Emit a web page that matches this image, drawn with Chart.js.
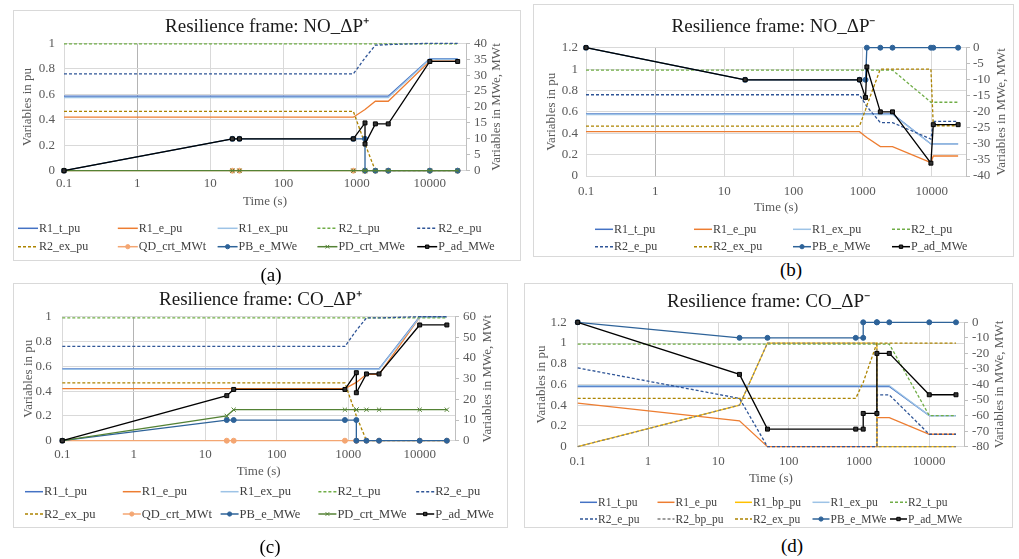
<!DOCTYPE html>
<html>
<head>
<meta charset="utf-8">
<script src="https://cdn.jsdelivr.net/npm/chart.js@4.4.1/dist/chart.umd.min.js"></script>
<style>
  html, body { margin: 0; padding: 0; background: #fff; }
  body { position: relative; width: 1019px; height: 559px; overflow: hidden; font-family: "Liberation Serif", "Times New Roman", serif; }
  .frame { position: absolute; border: 1px solid #d9d9d9; box-sizing: border-box; }
  .frame canvas { display: block; }
  .cap { position: absolute; font-size: 19px; color: #000; transform: translate(-50%, -50%); }
</style>
</head>
<body>
<div class="frame" style="left:13px;top:10px;width:508px;height:251px"><canvas id="chartA" width="506" height="249"></canvas></div>
<div class="frame" style="left:533px;top:4px;width:481px;height:253px"><canvas id="chartB" width="479" height="251"></canvas></div>
<div class="frame" style="left:13px;top:283px;width:495px;height:245px"><canvas id="chartC" width="493" height="243"></canvas></div>
<div class="frame" style="left:524px;top:283px;width:489px;height:245px"><canvas id="chartD" width="487" height="243"></canvas></div>
<div class="cap" style="left:271px;top:275px">(a)</div>
<div class="cap" style="left:791px;top:270px">(b)</div>
<div class="cap" style="left:270px;top:547px">(c)</div>
<div class="cap" style="left:792px;top:546px">(d)</div>
<script>
// x axis labels (log time axis)
const decadeTicks = [0.1, 1, 10, 100, 1000, 10000];

// (a) NO_dP+
const timeA = [0.1, 20, 25, 900, 1300, 1300, 1800, 2700, 10000, 24000];
const aR1t = [0.585, 0.585, 0.585, 0.585, 0.585, 0.585, 0.585, 0.585, 0.88, 0.88];
const aR1e = [0.42, 0.42, 0.42, 0.42, 0.48, 0.48, 0.545, 0.545, 0.86, 0.86];
const aR1ex = [0.573, 0.573, 0.573, 0.573, 0.573, 0.573, 0.573, 0.573, 0.875, 0.875];
const aR2t = [0.995, 0.995, 0.995, 0.995, 0.995, 0.995, 0.995, 0.995, 0.995, 0.995];
const aR2e = [0.76, 0.76, 0.76, 0.76, 0.885, 0.885, 0.985, 0.99, 1, 1];
const aR2ex = [0.466, 0.466, 0.466, 0.466, 0.21, 0.21, 0, 0, 0, 0];
const aQD = [0, 0, 0, 0, 0, 0, 0, 0, 0, 0];
const aPB = [0, 10, 10, 10, 10, 0, 0, 0, 0, 0];
const aPD = [0, 0, 0, 0, 0, 0, 0, 0, 0, 0];
const aPad = [0, 10, 10, 10, 15, 8.4, 14.7, 14.7, 34.3, 34.3];

// (b) NO_dP-
const timeB = [0.1, 20, 900, 1100, 1150, 1800, 2700, 9700, 10500, 24000];
const bR1t = [0.58, 0.58, 0.58, 0.58, 0.58, 0.58, 0.58, 0.3, 0.3, 0.3];
const bR1e = [0.415, 0.415, 0.415, 0.37, 0.36, 0.275, 0.275, 0.125, 0.187, 0.187];
const bR1ex = [0.575, 0.575, 0.575, 0.575, 0.575, 0.575, 0.575, 0.3, 0.3, 0.3];
const bR2t = [0.99, 0.99, 0.99, 0.99, 0.99, 0.99, 0.99, 0.69, 0.69, 0.69];
const bR2e = [0.76, 0.76, 0.76, 0.67, 0.65, 0.5, 0.5, 0.345, 0.51, 0.51];
const bR2ex = [0.466, 0.466, 0.466, 0.62, 0.66, 1, 1, 1, 0.47, 0.47];
const bPB = [0, -10, -10, -10, 0, 0, 0, 0, 0, 0];
const bPad = [0, -10, -10, -15.5, -6, -20, -20, -36, -24, -24];

// (c) CO_dP+
const timeC = [0.1, 20, 25, 900, 1300, 1300, 1800, 2700, 10000, 24000];
const cR1t = [0.58, 0.58, 0.58, 0.58, 0.58, 0.58, 0.58, 0.58, 1, 1];
const cR1e = [0.42, 0.42, 0.42, 0.42, 0.47, 0.47, 0.535, 0.535, 0.995, 0.995];
const cR1ex = [0.575, 0.575, 0.575, 0.575, 0.575, 0.575, 0.575, 0.575, 0.995, 0.995];
const cR2t = [0.99, 0.99, 0.99, 0.99, 0.99, 0.99, 0.99, 0.99, 0.99, 0.99];
const cR2e = [0.76, 0.76, 0.76, 0.76, 0.89, 0.89, 0.99, 0.99, 1, 1];
const cR2ex = [0.466, 0.466, 0.466, 0.466, 0.2, 0.2, 0, 0, 0, 0];
const cQD = [0, 0, 0, 0, 0, 0, 0, 0, 0, 0];
const cPB = [0, 10, 10, 10, 10, 0, 0, 0, 0, 0];
const cPD = [0, 12, 15, 15, 15, 15, 15, 15, 15, 15];
const cPad = [0, 21.8, 24.8, 24.8, 32.9, 23.2, 32.3, 32.3, 56, 56];

// (d) CO_dP-
const timeD = [0.1, 20, 50, 900, 1150, 1150, 1800, 1800, 2700, 10000, 24000];
const dR1t = [0.58, 0.58, 0.58, 0.58, 0.58, 0.58, 0.58, 0.58, 0.58, 0.3, 0.3];
const dR1e = [0.42, 0.25, 0, 0, 0, 0, 0, 0.28, 0.28, 0.12, 0.12];
const dR1bp = [0, 0.4, 1, 1, 1, 1, 1, 0, 0, 0, 0];
const dR1ex = [0.59, 0.59, 0.59, 0.59, 0.59, 0.59, 0.59, 0.59, 0.59, 0.3, 0.3];
const dR2t = [0.99, 0.99, 0.99, 0.99, 0.99, 0.99, 0.99, 0.99, 0.99, 0.3, 0.3];
const dR2e = [0.76, 0.466, 0, 0, 0, 0, 0, 0.5, 0.5, 0.12, 0.12];
const dR2bp = [0, 0.4, 1, 1, 1, 1, 1, 0, 0, 0, 0];
const dR2ex = [0.466, 0.466, 0.466, 0.466, 0.62, 0.62, 1, 1, 1, 1, 1];
const dPB = [0, -10, -10, -10, -10, 0, 0, 0, 0, 0, 0];
const dPad = [0, -33.5, -68.7, -68.7, -68.7, -58.6, -58.6, -20, -20, -46.6, -46.6];

// line look per series name
const seriesStyle = {
  R1_t_pu: { color: "#4472C4" },
  R1_e_pu: { color: "#ED7D31" },
  R1_bp_pu: { color: "#FFC000" },
  R1_ex_pu: { color: "#9DC3E6" },
  R2_t_pu: { color: "#70AD47", dash: [3, 2] },
  R2_e_pu: { color: "#2F5597", dash: [3, 2] },
  R2_bp_pu: { color: "#7F7F7F", dash: [3, 2] },
  R2_ex_pu: { color: "#AD8400", dash: [3, 2] },
  QD_crt_MWt: { color: "#F4A672", point: "circle", r: 2.5, axis: "y1" },
  PB_e_MWe: { color: "#2E6399", point: "circle", r: 2.5, axis: "y1" },
  PD_crt_MWe: { color: "#548235", point: "crossRot", r: 3, axis: "y1" },
  P_ad_MWe: { color: "#000000", point: "rect", r: 2.8, fill: "#333333", axis: "y1" },
};

const SERIF = '"Liberation Serif", "Times New Roman", serif';
Chart.defaults.font.family = SERIF;
Chart.defaults.color = "#595959";

function series(name, times, values) {
  const s = seriesStyle[name];
  return {
    label: name,
    data: times.map((t, i) => ({ x: t, y: values[i] })),
    yAxisID: s.axis || "y",
    showLine: true,
    borderColor: s.color,
    borderWidth: 1.3,
    borderDash: s.dash || [],
    pointStyle: s.point || "circle",
    pointRadius: s.r || 0,
    pointHoverRadius: s.r || 0,
    pointBackgroundColor: s.fill || s.color,
    pointBorderColor: s.color,
    pointBorderWidth: 1,
    tension: 0,
    clip: false,
  };
}

// right axis title (bottom-to-top) and the grid-aligned legend
function makeDecor(p) {
  return {
    id: "decor",
    afterDraw(chart) {
      const { ctx, chartArea } = chart;
      ctx.save();
      ctx.font = "13px " + SERIF;
      ctx.fillStyle = "#595959";
      ctx.textAlign = "center";
      ctx.textBaseline = "middle";
      ctx.translate(p.box.rTitleX, (chartArea.top + chartArea.bottom) / 2);
      ctx.rotate(-Math.PI / 2);
      ctx.fillText("Variables in MWe, MWt", 0, 0);
      ctx.restore();

      const lg = p.legend;
      ctx.save();
      ctx.font = lg.font + "px " + SERIF;
      ctx.textBaseline = "middle";
      ctx.textAlign = "left";
      chart.data.datasets.forEach((ds, i) => {
        const x = lg.x + (i % lg.cols) * lg.pitch;
        const y = lg.y + Math.floor(i / lg.cols) * lg.dy;
        ctx.strokeStyle = ds.borderColor;
        ctx.lineWidth = 1.5;
        ctx.setLineDash(ds.borderDash);
        ctx.beginPath();
        ctx.moveTo(x, y);
        ctx.lineTo(x + lg.len, y);
        ctx.stroke();
        ctx.setLineDash([]);
        if (ds.pointRadius > 0) {
          ctx.fillStyle = ds.pointBackgroundColor;
          ctx.strokeStyle = ds.pointBorderColor;
          ctx.lineWidth = 1;
          Chart.helpers.drawPoint(ctx, { pointStyle: ds.pointStyle, radius: ds.pointRadius * 0.85, rotation: 0, borderWidth: 1 }, x + lg.len / 2, y);
        }
        ctx.fillStyle = "#404040";
        ctx.fillText(ds.label, x + lg.len + 1, y + 0.5);
      });
      ctx.restore();
    },
  };
}

const plainNumber = (v) => String(Math.round(v * 100) / 100);

function buildPanel(p) {
  const b = p.box;
  const n = p.datasets.length;
  p.datasets.forEach((ds, i) => { ds.order = n - 1 - i; });
  const tickFont = { family: SERIF, size: 13 };
  return new Chart(document.getElementById(p.canvas), {
    type: "scatter",
    data: { datasets: p.datasets },
    plugins: [makeDecor(p)],
    options: {
      responsive: false,
      animation: false,
      events: [],
      layout: { padding: { top: 0, left: 0, right: 0, bottom: b.bottom } },
      plugins: {
        legend: { display: false },
        tooltip: { enabled: false },
        title: {
          display: true,
          text: p.title,
          color: "#1a1a1a",
          font: { family: SERIF, size: 19, weight: "normal" },
          padding: { top: b.titleTop, bottom: b.titleBottom },
        },
      },
      scales: {
        x: {
          type: "logarithmic",
          min: 0.1,
          max: 31200,
          afterBuildTicks: (s) => { s.ticks = decadeTicks.map((v) => ({ value: v })); },
          afterFit: (s) => { s.height = b.xHeight; },
          ticks: {
            callback: (v) => String(v),
            autoSkip: false,
            maxRotation: 0,
            minRotation: 0,
            padding: b.xTickPad,
            color: "#595959",
            font: tickFont,
          },
          grid: {
            drawTicks: false,
            color: (c) => (c.tick && c.tick.value === 1 ? "#b4b4b4" : "#d9d9d9"),
          },
          border: { color: "#d9d9d9" },
          title: { display: true, text: "Time (s)", color: "#595959", font: tickFont, padding: { top: 0, bottom: 0 } },
        },
        y: {
          position: "left",
          min: 0,
          max: p.yMax,
          afterFit: (s) => { s.width = b.left; },
          ticks: { stepSize: 0.2, autoSkip: false, callback: plainNumber, padding: b.yTickPad, color: "#595959", font: tickFont },
          grid: { drawTicks: false, color: "#d9d9d9" },
          border: { display: false },
          title: { display: true, text: "Variables in pu", color: "#595959", font: tickFont, padding: { top: b.yTitlePad, bottom: 0 } },
        },
        y1: {
          position: "right",
          min: p.rMin,
          max: p.rMax,
          afterFit: (s) => { s.width = b.right; },
          ticks: { stepSize: p.rStep, autoSkip: false, callback: plainNumber, padding: b.rTickPad, color: "#595959", font: tickFont },
          grid: { drawOnChartArea: false, drawTicks: true, tickLength: 4, color: "#bfbfbf" },
          border: { color: "#bfbfbf" },
        },
      },
    },
  });
}

buildPanel({
  canvas: "chartA",
  title: "Resilience frame: NO_\u0394P\u207A",
  yMax: 1, rMin: 0, rMax: 40, rStep: 5,
  datasets: [
    series("R1_t_pu", timeA, aR1t),
    series("R1_e_pu", timeA, aR1e),
    series("R1_ex_pu", timeA, aR1ex),
    series("R2_t_pu", timeA, aR2t),
    series("R2_e_pu", timeA, aR2e),
    series("R2_ex_pu", timeA, aR2ex),
    series("QD_crt_MWt", timeA, aQD),
    series("PB_e_MWe", timeA, aPB),
    series("PD_crt_MWe", timeA, aPD),
    series("P_ad_MWe", timeA, aPad),
  ],
  box: { left: 50, right: 54, titleTop: 4.6, titleBottom: 4.9, xHeight: 38.8, bottom: 50.5, xTickPad: 4.8, yTickPad: 9, rTickPad: 4, yTitlePad: 6.2, rTitleX: 483 },
  legend: { x: 4, y: 217.3, cols: 5, pitch: 99.8, dy: 18.4, font: 12, len: 20 },
});

buildPanel({
  canvas: "chartB",
  title: "Resilience frame: NO_\u0394P\u207B",
  yMax: 1.2, rMin: -40, rMax: 0, rStep: 5,
  datasets: [
    series("R1_t_pu", timeB, bR1t),
    series("R1_e_pu", timeB, bR1e),
    series("R1_ex_pu", timeB, bR1ex),
    series("R2_t_pu", timeB, bR2t),
    series("R2_e_pu", timeB, bR2e),
    series("R2_ex_pu", timeB, bR2ex),
    series("PB_e_MWe", timeB, bPB),
    series("P_ad_MWe", timeB, bPad),
  ],
  box: { left: 52, right: 47, titleTop: 10.3, titleBottom: 9.6, xHeight: 39.1, bottom: 40.9, xTickPad: 7.9, yTickPad: 8, rTickPad: 3, yTitlePad: 9.9, rTitleX: 468 },
  legend: { x: 61, y: 224.3, cols: 4, pitch: 99, dy: 17.4, font: 12, len: 18 },
});

buildPanel({
  canvas: "chartC",
  title: "Resilience frame: CO_\u0394P\u207A",
  yMax: 1, rMin: 0, rMax: 60, rStep: 10,
  datasets: [
    series("R1_t_pu", timeC, cR1t),
    series("R1_e_pu", timeC, cR1e),
    series("R1_ex_pu", timeC, cR1ex),
    series("R2_t_pu", timeC, cR2t),
    series("R2_e_pu", timeC, cR2e),
    series("R2_ex_pu", timeC, cR2ex),
    series("QD_crt_MWt", timeC, cQD),
    series("PB_e_MWe", timeC, cPB),
    series("PD_crt_MWe", timeC, cPD),
    series("P_ad_MWe", timeC, cPad),
  ],
  box: { left: 48.3, right: 52, titleTop: 4.6, titleBottom: 5.3, xHeight: 38.8, bottom: 47.5, xTickPad: 6.5, yTickPad: 10.5, rTickPad: 4, yTitlePad: 6.5, rTitleX: 474 },
  legend: { x: 11, y: 207.7, cols: 5, pitch: 97.8, dy: 22.3, font: 12.5, len: 18 },
});

buildPanel({
  canvas: "chartD",
  title: "Resilience frame: CO_\u0394P\u207B",
  yMax: 1.2, rMin: -80, rMax: 0, rStep: 10,
  datasets: [
    series("R1_t_pu", timeD, dR1t),
    series("R1_e_pu", timeD, dR1e),
    series("R1_bp_pu", timeD, dR1bp),
    series("R1_ex_pu", timeD, dR1ex),
    series("R2_t_pu", timeD, dR2t),
    series("R2_e_pu", timeD, dR2e),
    series("R2_bp_pu", timeD, dR2bp),
    series("R2_ex_pu", timeD, dR2ex),
    series("PB_e_MWe", timeD, dPB),
    series("P_ad_MWe", timeD, dPad),
  ],
  box: { left: 52.7, right: 48, titleTop: 6.3, titleBottom: 9.2, xHeight: 39.4, bottom: 40.9, xTickPad: 7.2, yTickPad: 11, rTickPad: 4, yTitlePad: 8.9, rTitleX: 475 },
  legend: { x: 55, y: 218.3, cols: 5, pitch: 77.5, dy: 16.7, font: 11.5, len: 17 },
});
</script>
</body>
</html>
